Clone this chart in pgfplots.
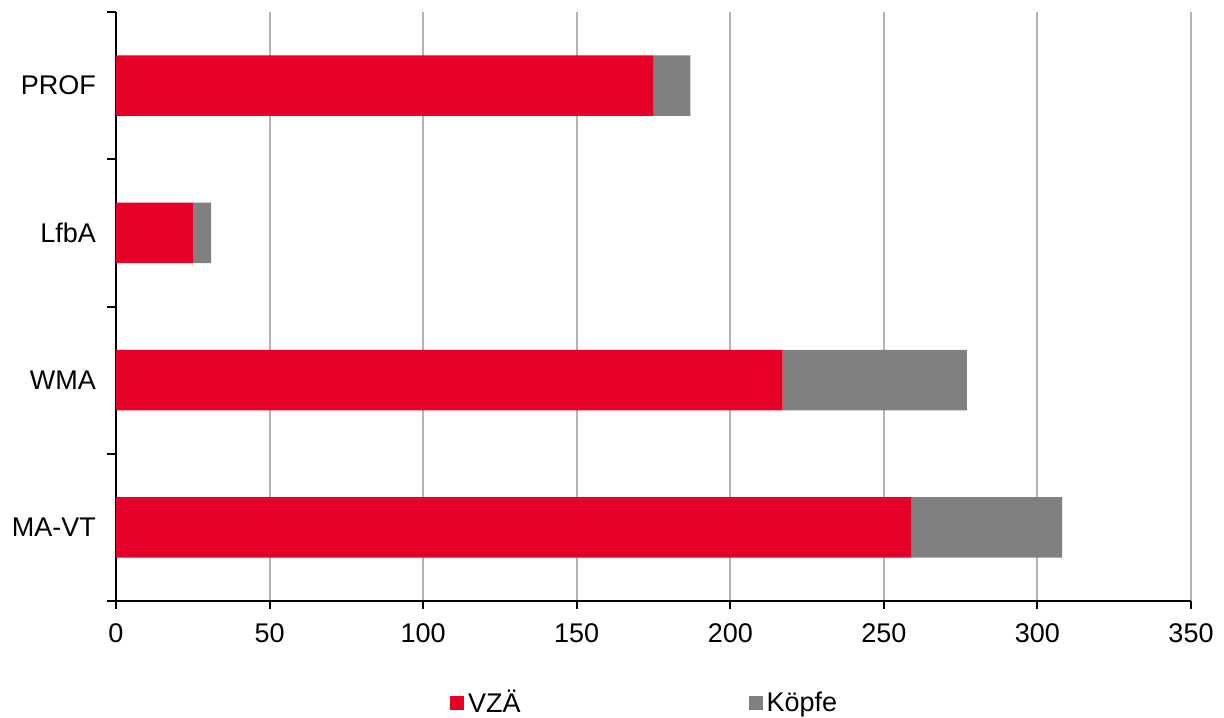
\documentclass[border=0pt]{standalone}
\usepackage{fontspec}
\setmainfont{Liberation Sans}
\usepackage{pgfplots}
\pgfplotsset{compat=1.18}
\usepackage{pgfplotstable}
\definecolor{vzred}{HTML}{E60028}
\definecolor{kgrey}{HTML}{808080}
\definecolor{gridgrey}{HTML}{B4B4B4}
\pgfplotstableread{
idx vza koepfe
0 259 49
1 217 60
2 25 6
3 175 12
}\datatable
\begin{document}
\begin{tikzpicture}
\begin{axis}[
  scale only axis,
  width=537.5pt, height=294.5pt,
  xbar stacked,
  bar width=0.41,
  xmin=0, xmax=350,
  ymin=-0.5, ymax=3.5,
  xtick={0,50,...,350},
  ytick={0,1,2,3},
  yticklabels={MA-VT,WMA,LfbA,PROF},
  minor ytick={-0.5,0.5,1.5,2.5,3.5},
  axis x line=bottom, axis y line=left,
  axis line style={black, line width=1pt, -},
  x axis line style={shorten <=-4.5pt},
  xmajorgrids,
  major grid style={gridgrey, line width=1pt},
  major x tick style={black, line width=1pt},
  minor y tick style={black, line width=1pt},
  major y tick style={draw=none},
  tick align=outside,
  major tick length=4pt,
  minor tick length=4.5pt,
  /pgf/number format/assume math mode=true,
  ticklabel style={font=\fontsize{13.5}{15}\selectfont},
  yticklabel style={xshift=-2.5pt},
  xticklabel style={yshift=-4pt},
  legend columns=2,
  legend style={draw=none, at={(0.4926,-0.173)}, anchor=center,
    font=\fontsize{13.5}{15}\selectfont,
    /tikz/every even column/.append style={column sep=112pt}},
  legend cell align=left,
  legend image code/.code={\fill[#1] (-2.5pt,-3.5pt) rectangle (4.5pt,3.5pt);},
  clip=false,
]
\addplot[fill=vzred, draw=none] table[x=vza, y=idx] {\datatable};
\addlegendentry{VZÄ}
\addplot[fill=kgrey, draw=none] table[x=koepfe, y=idx] {\datatable};
\addlegendentry{Köpfe}
\end{axis}
\pgfresetboundingbox
\path[use as bounding box] ([shift={(-58pt,-58pt)}]current axis.south west) rectangle ([shift={(16.5pt,6pt)}]current axis.north east);
\end{tikzpicture}
\end{document}
